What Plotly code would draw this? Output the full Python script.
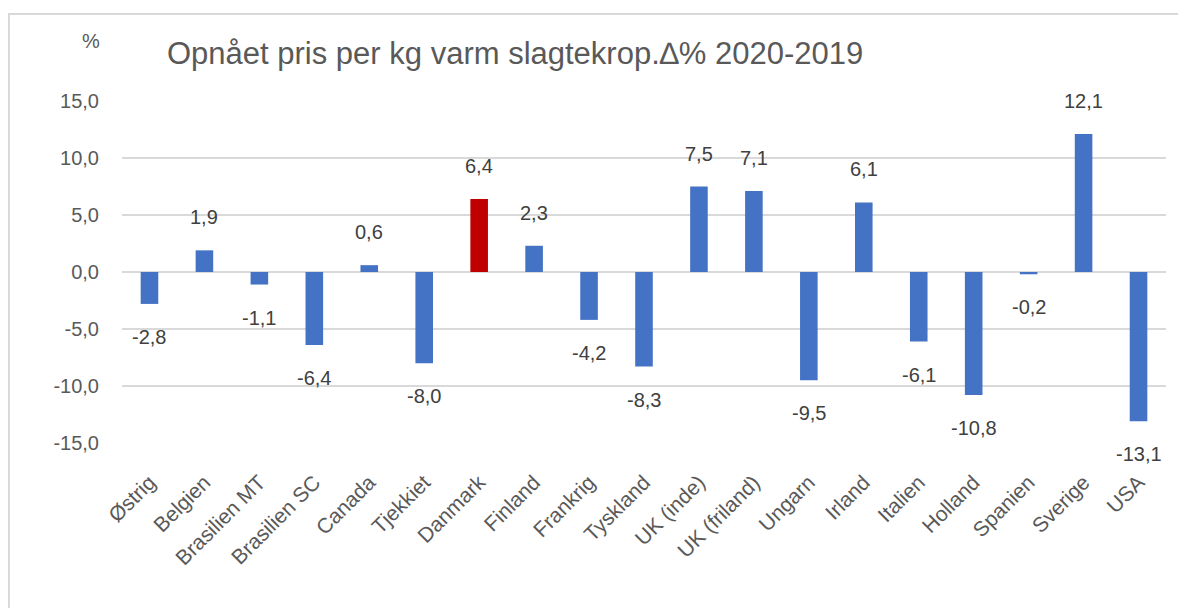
import plotly.graph_objects as go

categories = ["Østrig", "Belgien", "Brasilien MT", "Brasilien SC", "Canada", "Tjekkiet",
              "Danmark", "Finland", "Frankrig", "Tyskland", "UK (inde)", "UK (friland)",
              "Ungarn", "Irland", "Italien", "Holland", "Spanien", "Sverige", "USA"]
values = [-2.8, 1.9, -1.1, -6.4, 0.6, -8.0, 6.4, 2.3, -4.2, -8.3, 7.5, 7.1,
          -9.5, 6.1, -6.1, -10.8, -0.2, 12.1, -13.1]
highlight = "Danmark"
tick_vals = [-15, -10, -5, 0, 5, 10, 15]
tick_text = ["-15,0", "-10,0", "-5,0", "0,0", "5,0", "10,0", "15,0"]

colors = ["#C00000" if c == highlight else "#4472C4" for c in categories]
labels = [f"{v:.1f}".replace(".", ",") for v in values]

FONT = "Liberation Sans, Arial, sans-serif"

fig = go.Figure(go.Bar(
    x=categories, y=values, marker_color=colors, marker_line_width=0,
    cliponaxis=False,
))

# page body has an 8px margin; work in window pixel coordinates
OFF = 8
W, H = 1178, 600
L, R, T, B = 122 - OFF, W - (1166 - OFF), 101 - OFF, H - (443 - OFF)
pw, ph = W - L - R, H - T - B

def px_x(x):
    return (x - OFF - L) / pw

def px_y(y):
    return (H - B - (y - OFF)) / ph

annotations = [
    dict(x=c, y=v, xref="x", yref="y", text=t, showarrow=False,
         xanchor="center", yanchor="middle", yshift=33 if v >= 0 else -33,
         font=dict(size=20, color="#404040", family=FONT))
    for c, v, t in zip(categories, values, labels)
]
annotations += [
    dict(text="Opnået pris per kg varm slagtekrop.∆% 2020-2019",
         xref="paper", yref="paper", x=px_x(165), y=px_y(53),
         xanchor="left", yanchor="middle", showarrow=False,
         font=dict(size=31, color="#595959", family=FONT)),
    dict(text="%", xref="paper", yref="paper", x=px_x(91), y=px_y(41),
         xanchor="center", yanchor="middle", showarrow=False,
         font=dict(size=20, color="#595959", family=FONT)),
]

fig.update_layout(
    width=W, height=H,
    margin=dict(l=L, r=R, t=T, b=B),
    paper_bgcolor="white", plot_bgcolor="white",
    separators=",.",
    bargap=0.68,
    showlegend=False,
    font=dict(family=FONT, color="#595959"),
    xaxis=dict(tickangle=-45, tickfont=dict(size=21, color="#595959"),
               showgrid=False, showline=False, ticks="", ticklabelstandoff=22),
    yaxis=dict(range=[-15, 15], tickvals=tick_vals, ticktext=tick_text,
               tickfont=dict(size=20, color="#595959"),
               showgrid=True, gridcolor="#D9D9D9", gridwidth=1.5,
               zeroline=True, zerolinecolor="#D9D9D9", zerolinewidth=1.5,
               ticks="outside", ticklen=18, tickcolor="rgba(0,0,0,0)",
               showline=False),
    annotations=annotations,
    shapes=[
        dict(type="rect", xref="paper", yref="paper",
             x0=px_x(9), x1=px_x(1250), y0=px_y(700), y1=px_y(14),
             line=dict(color="#D9D9D9", width=2), fillcolor="rgba(0,0,0,0)",
             layer="below"),
    ],
)

fig.write_html("out.html")
